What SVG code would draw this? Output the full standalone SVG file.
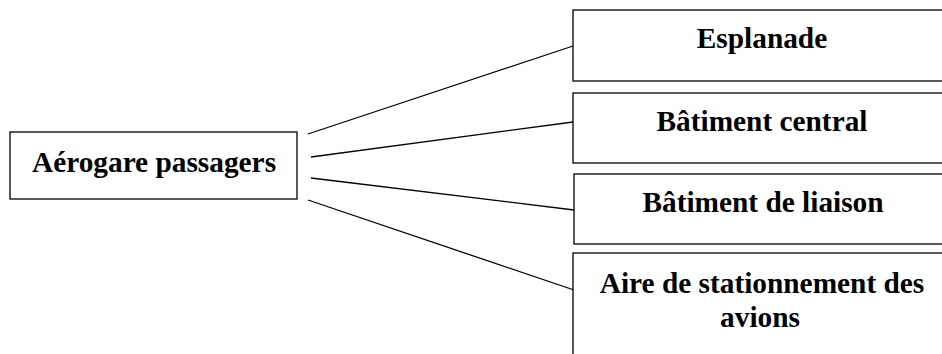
<svg xmlns="http://www.w3.org/2000/svg" width="942" height="354" viewBox="0 0 942 354">
<style>
.box{fill:#fff;stroke:#000;stroke-width:1.3}
.lbl{font-family:"Liberation Serif","Times New Roman",serif;font-weight:bold;font-size:29.33px;fill:#000;text-anchor:middle}
.con{stroke:#000;stroke-width:1.3;fill:none}
</style>
<rect width="942" height="354" fill="#fff"/>
<g id="connectors">
<line class="con" x1="308" y1="134" x2="573" y2="46"/>
<line class="con" x1="311" y1="157" x2="573" y2="122"/>
<line class="con" x1="311" y1="178" x2="574" y2="210"/>
<line class="con" x1="308" y1="200" x2="574" y2="290"/>
</g>
<g id="aerogare">
<rect class="box" x="10" y="132" width="287" height="67"/>
<text class="lbl" x="154" y="172">Aérogare passagers</text>
</g>
<g id="esplanade">
<rect class="box" x="573" y="10" width="380" height="71"/>
<text class="lbl" x="762" y="48">Esplanade</text>
</g>
<g id="batiment-central">
<rect class="box" x="573" y="93" width="380" height="70"/>
<text class="lbl" x="762" y="131">Bâtiment central</text>
</g>
<g id="batiment-liaison">
<rect class="box" x="574" y="174" width="380" height="70"/>
<text class="lbl" x="763" y="212">Bâtiment de liaison</text>
</g>
<g id="aire">
<rect class="box" x="573" y="253" width="380" height="120"/>
<text class="lbl" x="762" y="293">Aire de stationnement des</text>
<text class="lbl" x="760" y="327">avions</text>
</g>
</svg>
